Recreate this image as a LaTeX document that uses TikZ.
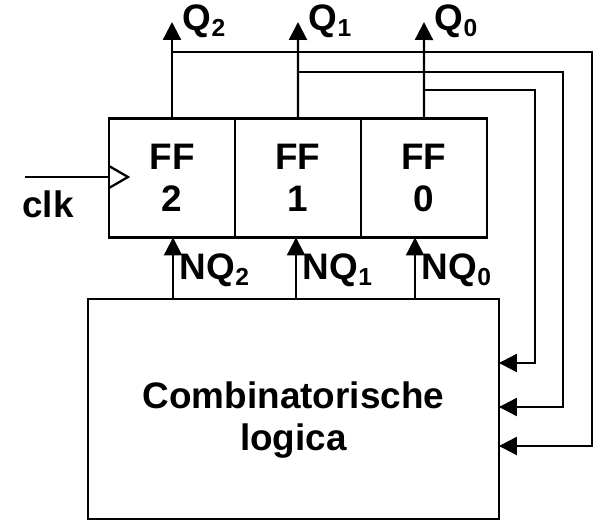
\documentclass[tikz,border=0pt]{standalone}
\usepackage{fontspec}
\setmainfont{Liberation Sans}
\usetikzlibrary{arrows.meta, positioning}

\newcommand{\lowidx}[1]{\raisebox{-3.5pt}{\fontsize{14}{14}\selectfont #1}}

\begin{document}
\begin{tikzpicture}[
        x=0.02cm, y=-0.02cm,
        ffbox/.style={rectangle, draw, line width=1.3pt, outer sep=0pt, minimum width=2.52cm, minimum height=2.38cm, align=center, font=\fontsize{21}{24}\selectfont\bfseries},
        lbl/.style={font=\fontsize{21}{24}\selectfont\bfseries},
        arrow/.style={-{Triangle[length=0.36cm, width=0.36cm]}, line width=1.3pt},
        wire/.style={line width=1.3pt}
    ]
        \useasboundingbox (0,0) rectangle (600,521);

        \node[ffbox] (ff2) at (172,178) {FF\\2};
        \node[ffbox, right=0pt of ff2] (ff1) {FF\\1};
        \node[ffbox, right=0pt of ff1] (ff0) {FF\\0};
        \node[ffbox, minimum width=8.22cm, minimum height=4.4cm] (comb) at (293.5,409) {};
        \node[lbl, align=center] (combtext) at (293.5,420) {Combinatorische\\logica};

        % clock input
        \coordinate (clkin) at (25,177);
        \node[lbl] (clk) at (48,204) {clk};
        \draw[wire] (clkin) -- (clkin -| ff2.west);
        \draw[wire] (ff2.west |- 0,166) -- (128,177) -- (ff2.west |- 0,188);

        % outputs
        \coordinate (q2) at (172,22);
        \coordinate (q1) at (298,22);
        \coordinate (q0) at (424,22);
        \draw[arrow] (ff2.north) -- (q2) node[lbl, anchor=base west, xshift=0.08cm, yshift=-0.16cm] {Q\lowidx{2}};
        \draw[arrow] (ff1.north) -- (q1) node[lbl, anchor=base west, xshift=0.08cm, yshift=-0.16cm] {Q\lowidx{1}};
        \draw[arrow] (ff0.north) -- (q0) node[lbl, anchor=base west, xshift=0.08cm, yshift=-0.16cm] {Q\lowidx{0}};

        % feedback to the logic
        \coordinate (br2) at (172,52);
        \coordinate (br1) at (298,72);
        \coordinate (br0) at (424,90);
        \coordinate (fb2) at (592,446);
        \coordinate (fb1) at (563,407);
        \coordinate (fb0) at (535,363);
        \draw[arrow] (br2) -| (fb2) -- (fb2 -| comb.east);
        \draw[arrow] (br1) -| (fb1) -- (fb1 -| comb.east);
        \draw[arrow] (br0) -| (fb0) -- (fb0 -| comb.east);

        % next state
        \draw[arrow] (comb.north -| 173,0) -- (ff2.south -| 173,0) node[lbl, midway, anchor=base west, yshift=-0.23cm] {NQ\lowidx{2}};
        \draw[arrow] (comb.north -| 296,0) -- (ff1.south -| 296,0) node[lbl, midway, anchor=base west, yshift=-0.23cm] {NQ\lowidx{1}};
        \draw[arrow] (comb.north -| 415,0) -- (ff0.south -| 415,0) node[lbl, midway, anchor=base west, yshift=-0.23cm] {NQ\lowidx{0}};
    \end{tikzpicture}
\end{document}
